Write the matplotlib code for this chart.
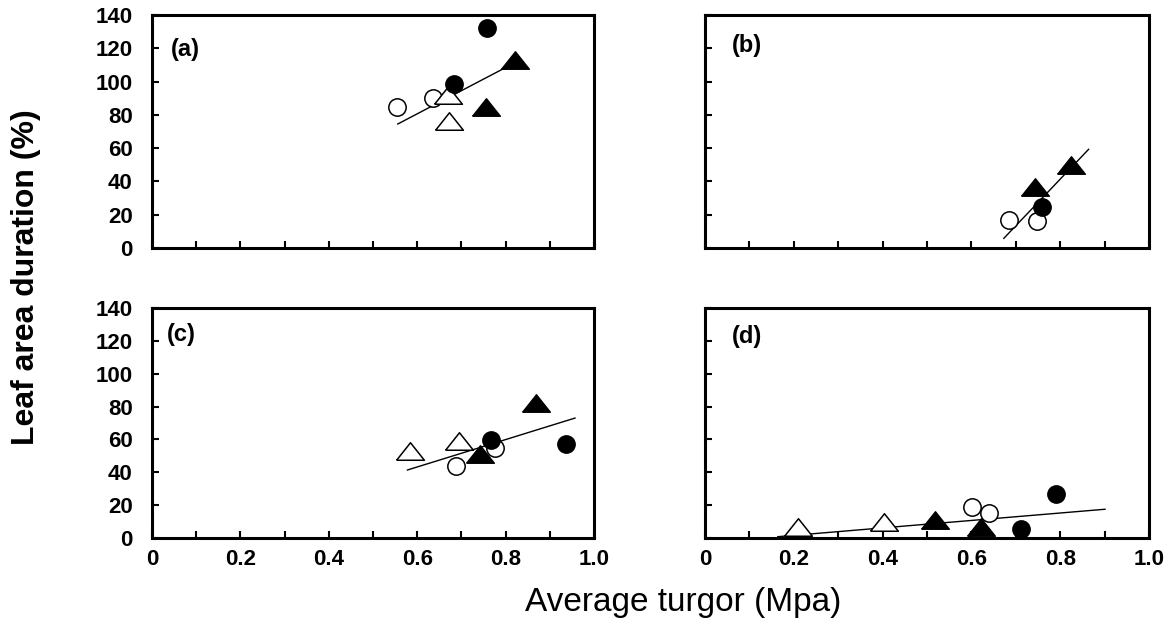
import matplotlib
matplotlib.use("Agg")
import matplotlib.pyplot as plt
import numpy as np

# ---- data ----
panel_labels = ["(a)", "(b)", "(c)", "(d)"]

# open circles
a_oc_x = [0.555, 0.636]
a_oc_y = [85, 90]
a_fc_x = [0.683, 0.758]
a_fc_y = [98.5, 132]
a_ot_x = [0.670, 0.671]
a_ot_y = [92, 76.5]
a_ft_x = [0.821, 0.756]
a_ft_y = [113, 85]
a_line_x = [0.556, 0.797]
a_line_y = [74.5, 108]

b_oc_x = [0.685, 0.748]
b_oc_y = [16.8, 16.4]
b_fc_x = [0.759]
b_fc_y = [24.4]
b_ot_x = []
b_ot_y = []
b_ft_x = [0.744, 0.825]
b_ft_y = [36.8, 49.8]
b_line_x = [0.673, 0.864]
b_line_y = [5.8, 59.3]

c_oc_x = [0.688, 0.775]
c_oc_y = [44, 54.6]
c_fc_x = [0.766, 0.937]
c_fc_y = [59.6, 57]
c_ot_x = [0.584, 0.694]
c_ot_y = [53, 59]
c_ft_x = [0.743, 0.868]
c_ft_y = [51, 82]
c_line_x = [0.578, 0.957]
c_line_y = [41.4, 73]

d_oc_x = [0.601, 0.640]
d_oc_y = [18.7, 15.4]
d_fc_x = [0.711, 0.791]
d_fc_y = [5.5, 27]
d_ot_x = [0.209, 0.404]
d_ot_y = [6.5, 9.9]
d_ft_x = [0.519, 0.621]
d_ft_y = [11, 6.5]
d_line_x = [0.164, 0.901]
d_line_y = [0.8, 17.5]

x_ticks = [0, 0.2, 0.4, 0.6, 0.8, 1.0]
x_ticklabels = ["0", "0.2", "0.4", "0.6", "0.8", "1.0"]
y_ticks = [0, 20, 40, 60, 80, 100, 120, 140]
y_ticklabels = ["0", "20", "40", "60", "80", "100", "120", "140"]

panels = [
    (a_oc_x, a_oc_y, a_fc_x, a_fc_y, a_ot_x, a_ot_y, a_ft_x, a_ft_y, a_line_x, a_line_y),
    (b_oc_x, b_oc_y, b_fc_x, b_fc_y, b_ot_x, b_ot_y, b_ft_x, b_ft_y, b_line_x, b_line_y),
    (c_oc_x, c_oc_y, c_fc_x, c_fc_y, c_ot_x, c_ot_y, c_ft_x, c_ft_y, c_line_x, c_line_y),
    (d_oc_x, d_oc_y, d_fc_x, d_fc_y, d_ot_x, d_ot_y, d_ft_x, d_ft_y, d_line_x, d_line_y),
]

# ---- layout / style ----
plt.rcParams['font.family'] = ['Liberation Sans', 'DejaVu Sans']
fig = plt.figure(figsize=(11.7, 6.25), dpi=100)

W, H = 1170.0, 625.0
boxes = [  # left, top, right, bottom in pixels
    (152, 15, 594, 248),
    (705, 15, 1149, 248),
    (152, 308, 594, 538),
    (705, 308, 1149, 538),
]
label_pos = [(0.043, 0.854), (0.061, 0.871), (0.034, 0.883), (0.061, 0.874)]

tri = [(-1, -0.63), (1, -0.63), (0, 0.63), (-1, -0.63)]

for i, (box, data) in enumerate(zip(boxes, panels)):
    l, t, r, b = box
    ax = fig.add_axes([l / W, 1 - b / H, (r - l) / W, (b - t) / H])
    oc_x, oc_y, fc_x, fc_y, ot_x, ot_y, ft_x, ft_y, ln_x, ln_y = data
    ax.plot(ln_x, ln_y, color='black', lw=1.0, zorder=2)
    ax.plot(oc_x, oc_y, 'o', ms=12.5, mfc='white', mec='black', mew=1.1, ls='none', zorder=3)
    ax.plot(ot_x, ot_y, marker=tri, ms=20, mfc='white', mec='black', mew=1.1, ls='none', zorder=3)
    ax.plot(fc_x, fc_y, 'o', ms=12.5, mfc='black', mec='black', mew=1.0, ls='none', zorder=4)
    ax.plot(ft_x, ft_y, marker=tri, ms=20, mfc='black', mec='black', mew=1.0, ls='none', zorder=4)

    ax.set_xlim(0, 1.0)
    ax.set_ylim(0, 140)
    ax.set_xticks(np.round(np.arange(0, 1.01, 0.1), 1))
    ax.set_yticks(y_ticks)
    ax.tick_params(direction='in', length=5, width=1.5, top=False, right=False)
    ax.tick_params(axis='y', pad=14, labelsize=16)
    ax.tick_params(axis='x', pad=8, labelsize=16)
    for s in ax.spines.values():
        s.set_linewidth(2.2)

    if i >= 2:
        lbls = []
        for v in np.round(np.arange(0, 1.01, 0.1), 1):
            if v in x_ticks:
                lbls.append(x_ticklabels[x_ticks.index(v)])
            else:
                lbls.append("")
        ax.set_xticklabels(lbls, fontweight='bold')
    else:
        ax.set_xticklabels([])
    if i % 2 == 0:
        ax.set_yticklabels(y_ticklabels, fontweight='bold')
    else:
        ax.set_yticklabels([])

    ax.text(label_pos[i][0], label_pos[i][1], panel_labels[i], transform=ax.transAxes,
            fontsize=17, fontweight='bold', ha='left', va='center')

fig.text(683 / W, 1 - 603 / H, "Average turgor (Mpa)", fontsize=24,
         ha='center', va='center')
fig.text(26 / W, 1 - 277 / H, "Leaf area duration (%)", fontsize=23,
         fontweight='bold', rotation=90, ha='center', va='center')

fig.savefig("out.png", dpi=100)
